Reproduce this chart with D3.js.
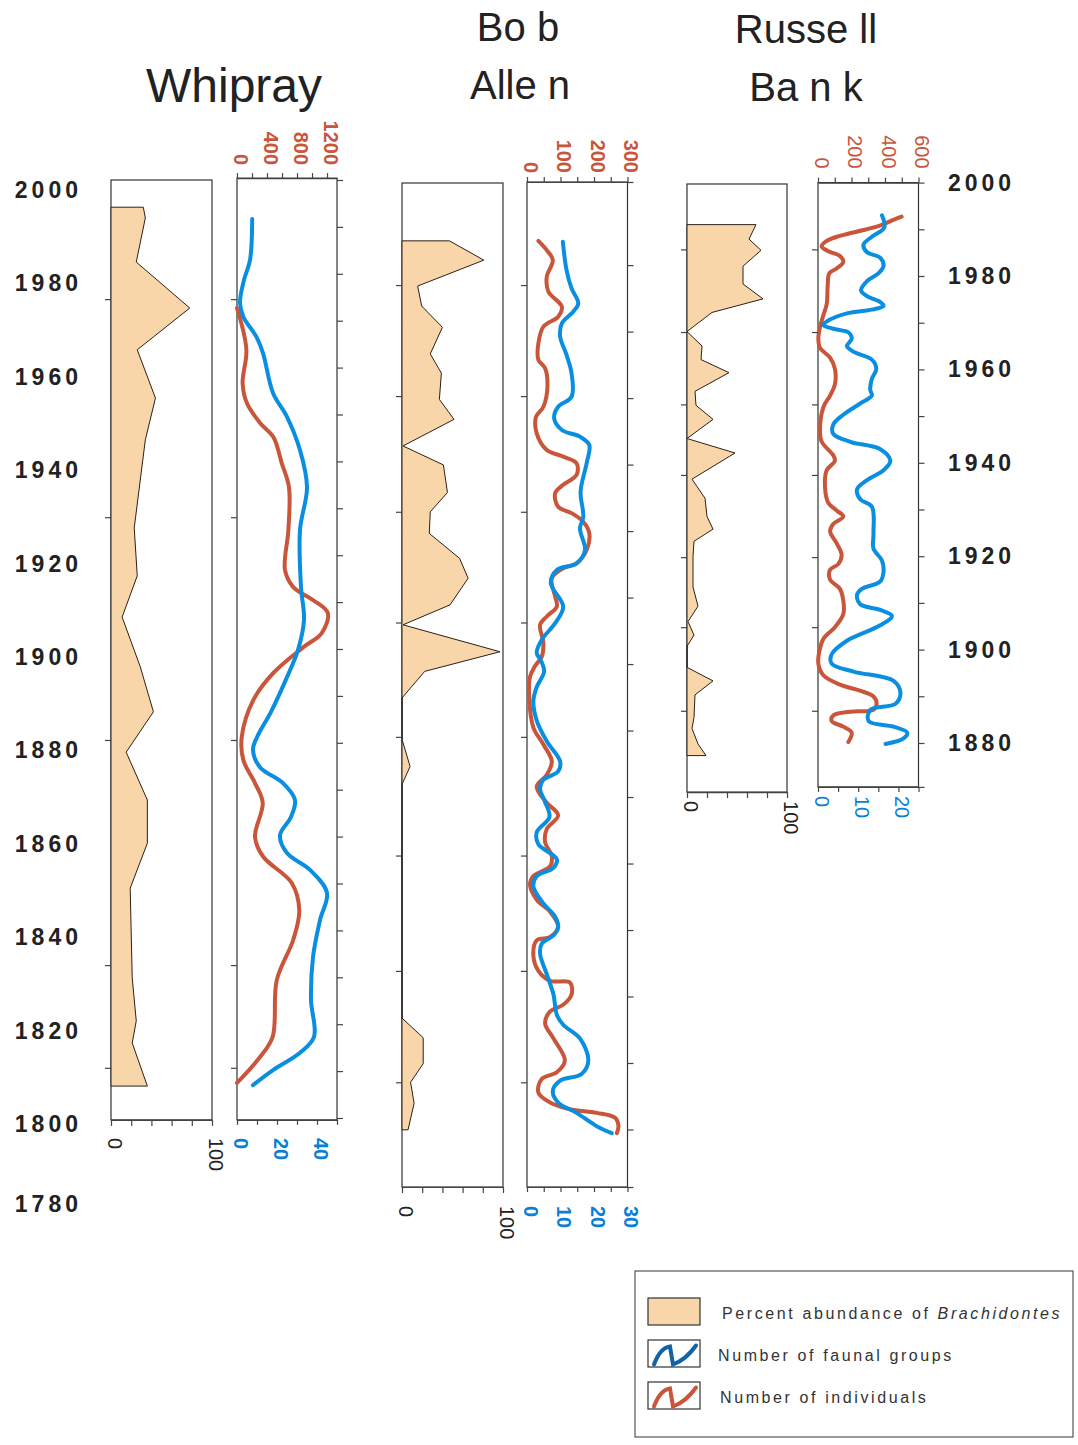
<!DOCTYPE html>
<html>
<head>
    <meta charset="utf-8" />
    <title>Whipray, Bob Allen, Russell Bank</title>
    <script src="https://cdn.jsdelivr.net/npm/d3@7"></script>
    <style>
        body { margin: 0; background: #fff; }
        svg { font-family: "Liberation Sans", Arial, Helvetica, sans-serif; }
        .box { fill: #fff; stroke: #333; stroke-width: 1.2; }
        .pct { fill: #f9d6aa; stroke: #2b2018; stroke-width: 1; stroke-linejoin: miter; }
        .indiv { fill: none; stroke: #c9553b; stroke-width: 4; stroke-linecap: round; stroke-linejoin: round; }
        .groups { fill: none; stroke: #0a8ee0; stroke-width: 4; stroke-linecap: round; stroke-linejoin: round; }
        .title { fill: #222; }
        .year { fill: #222; font-weight: bold; font-size: 23px; letter-spacing: 4px; }
        .legend text { fill: #333; font-size: 16px; letter-spacing: 2.6px; }
    </style>
</head>
<body>
<svg width="1078" height="1445" viewBox="0 0 1078 1445"></svg>
<script>
// ---------------- data ----------------
// every series: [vertical position, value]
// Whipray and Russell Bank are placed by year, Bob Allen by depth (cm)

var percentTicks = [0, 20, 40, 60, 80, 100];

// Whipray
var whiprayPct = [[1994.2, 32], [1991.9, 34], [1982.5, 25], [1972.7, 78], [1963.8, 26], [1953.5, 44],
    [1944.6, 34], [1925.8, 23], [1915.6, 26], [1906.8, 11], [1896.2, 29], [1886.6, 42], [1878.0, 15],
    [1867.8, 36], [1858.6, 36], [1849.0, 19], [1829.9, 21], [1820.7, 25], [1816.0, 21], [1806.8, 36]];
var whiprayGroups = [[1991.7, 7.6], [1982.9, 6.5], [1978.7, 3.5], [1973.8, 1.5], [1970.8, 3.2], [1966.5, 9.8],
    [1963.1, 13], [1954.6, 18], [1949.5, 25], [1942.4, 31.5], [1934.5, 35], [1925.4, 31.5], [1913.2, 32],
    [1906.2, 33.5], [1899.8, 30.5], [1894.0, 25], [1886.6, 17], [1881.2, 10], [1878.5, 8], [1874.8, 11.5],
    [1871.4, 23], [1867.8, 29], [1864.2, 27], [1860.3, 21.5], [1856.5, 25], [1852.9, 36.5], [1848.0, 45],
    [1842.2, 41.5], [1834.3, 38], [1825.2, 37], [1817.3, 38.5], [1813.9, 31.5], [1810.2, 18], [1807.0, 8]];
var whiprayIndiv = [[1972.7, 0], [1963.8, 125], [1956.7, 75], [1952.5, 130], [1948.2, 307], [1945.2, 485],
    [1939.7, 595], [1934.5, 693], [1925.4, 685], [1916.8, 640], [1913.2, 750], [1910.4, 1017], [1907.7, 1210],
    [1903.4, 1130], [1900.4, 885], [1894.9, 485], [1889.1, 217], [1881.2, 63], [1876.3, 85], [1871.4, 240],
    [1867.2, 343], [1859.9, 240], [1855.7, 350], [1850.1, 730], [1844.3, 830], [1838.0, 750], [1829.4, 530],
    [1817.3, 475], [1813.0, 307], [1807.5, 0]];
var whiprayMarks = [1974.6, 1928.1, 1880.6, 1832.6, 1810.7];
var whiprayYearLabels = [2000, 1980, 1960, 1940, 1920, 1900, 1880, 1860, 1840, 1820, 1800, 1780];

// Bob Allen (depth, cm)
var bobPct = [[1.77, 47], [2.35, 81], [3.13, 15.5], [3.73, 19.5], [4.37, 40], [5.17, 28], [5.75, 39],
    [6.54, 37], [7.14, 51.5], [7.94, 1], [8.51, 41], [9.34, 45], [9.92, 28], [10.57, 27], [11.32, 57],
    [11.92, 65.5], [12.72, 47.5], [13.32, 1], [14.13, 97], [14.72, 22.5], [15.52, 0], [16.76, 0], [17.58, 8],
    [18.12, 0], [25.15, 0], [25.74, 21], [26.52, 21], [27.08, 8.5], [27.71, 12], [28.51, 6]];
var bobGroups = [[1.80, 10.7], [2.65, 11.8], [3.20, 13.3], [3.65, 15.3], [3.90, 13.8], [4.25, 10.4],
    [4.65, 9.9], [5.20, 11.8], [5.75, 13.3], [6.46, 13.3], [6.76, 9.3], [7.11, 8.1], [7.46, 10.4], [7.66, 15.8],
    [7.91, 18.6], [8.46, 17.8], [9.31, 16.0], [10.07, 16.8], [10.42, 15.8], [11.07, 17.3], [11.47, 14.8],
    [11.67, 8.9], [12.07, 7.1], [12.77, 10.8], [13.27, 8.4], [13.77, 4.4], [14.17, 2.9], [14.38, 4.1],
    [14.73, 5.1], [15.19, 2.9], [15.60, 1.9], [16.20, 2.9], [16.82, 5.9], [17.43, 9.9], [17.73, 9.3],
    [17.98, 4.9], [18.24, 3.9], [18.65, 5.4], [19.10, 6.7], [19.56, 2.9], [19.92, 3.4], [20.37, 8.9],
    [20.63, 7.9], [20.88, 2.9], [21.19, 1.9], [21.70, 4.9], [22.10, 8.4], [22.41, 9.3], [22.66, 7.9],
    [22.91, 4.4], [23.22, 3.9], [23.83, 5.9], [24.44, 7.9], [25.05, 8.9], [25.35, 10.8], [25.76, 15.8],
    [26.42, 18.3], [26.83, 16.3], [27.03, 9.9], [27.34, 7.7], [27.69, 9.3], [28.00, 14.8], [28.40, 20.8],
    [28.61, 25.3]];
var bobIndiv = [[1.77, 34], [2.05, 59], [2.35, 77], [2.85, 59], [3.30, 64], [3.75, 104], [4.05, 93],
    [4.35, 49], [4.85, 34], [5.35, 34], [5.60, 54], [6.16, 61], [6.76, 49], [7.06, 27], [7.56, 29], [8.06, 59],
    [8.26, 108], [8.46, 148], [8.81, 148], [9.11, 108], [9.36, 84], [9.77, 93], [9.96, 133], [10.22, 168],
    [10.57, 186], [11.07, 178], [11.47, 148], [11.62, 108], [11.92, 74], [12.47, 84], [12.77, 89], [13.07, 59],
    [13.32, 39], [13.87, 49], [14.28, 44], [14.56, 24], [14.88, 9], [15.60, 7], [16.41, 19], [16.92, 49],
    [17.43, 74], [17.83, 59], [18.19, 29], [18.65, 57], [19.05, 93], [19.46, 59], [19.86, 54], [20.27, 74],
    [20.58, 69], [20.88, 19], [21.14, 9], [21.59, 29], [21.95, 69], [22.41, 93], [22.71, 69], [22.81, 29],
    [23.27, 19], [23.73, 34], [24.03, 69], [24.08, 128], [24.44, 133], [24.75, 108], [24.95, 69], [25.31, 54],
    [25.76, 79], [26.42, 113], [26.78, 89], [26.98, 44], [27.39, 34], [27.69, 69], [27.89, 128], [28.00, 208],
    [28.15, 263], [28.40, 273], [28.61, 268]];
var bobMarks = [3.10, 6.44, 9.92, 13.25, 16.69, 20.26, 23.73, 27.08];

// Russell Bank
var russellPct = [[1991.0, 69], [1987.9, 62], [1985.5, 74], [1982.1, 56], [1978.3, 56], [1975.1, 76],
    [1972.2, 25], [1968.1, 0], [1965.0, 15], [1962.1, 14], [1959.3, 42], [1955.3, 8], [1952.3, 9], [1949.3, 26],
    [1945.2, 0], [1942.1, 48], [1936.5, 5], [1932.4, 18], [1928.5, 20], [1925.8, 26], [1923.2, 7], [1919.9, 6],
    [1913.4, 6], [1909.3, 11], [1906.0, 1], [1903.1, 7], [1900.7, 0], [1896.2, 0], [1893.3, 26], [1890.3, 8],
    [1885.5, 7], [1883.1, 5], [1879.8, 11], [1877.3, 19]];
var russellGroups = [[1993.0, 15.9], [1990.4, 16.5], [1988.4, 13.4], [1986.7, 11.3], [1985.1, 12.2],
    [1983.9, 15.5], [1982.2, 16.3], [1980.6, 15.1], [1978.9, 12.2], [1976.9, 10.7], [1975.7, 12.2],
    [1974.4, 15.5], [1973.6, 16.3], [1972.8, 13.4], [1972.0, 7.2], [1970.3, 2.2], [1969.5, 1.3], [1968.7, 3.8],
    [1967.9, 7.6], [1966.6, 8.4], [1965.0, 7.2], [1963.8, 8.8], [1962.1, 13.4], [1960.1, 14.5], [1958.0, 13.4],
    [1955.6, 13.0], [1954.4, 13.4], [1952.7, 10.5], [1950.3, 6.3], [1948.2, 3.8], [1946.2, 3.8], [1944.5, 8.0],
    [1942.9, 15.5], [1940.4, 18.0], [1938.4, 16.3], [1936.3, 12.2], [1934.3, 9.7], [1932.2, 10.5],
    [1930.6, 13.4], [1924.8, 13.8], [1921.6, 13.8], [1919.1, 15.9], [1916.7, 16.3], [1914.6, 15.5],
    [1913.0, 10.9], [1911.7, 9.7], [1909.7, 10.5], [1908.5, 15.5], [1907.2, 18.4], [1905.2, 15.5],
    [1901.9, 7.2], [1899.0, 3.4], [1897.0, 3.4], [1895.3, 8.8], [1893.3, 18.8], [1890.8, 20.5], [1888.4, 19.3],
    [1887.1, 13.0], [1884.7, 12.6], [1883.5, 18.8], [1882.2, 22.2], [1881.0, 21.3], [1879.8, 16.8]];
var russellIndiv = [[1992.7, 499], [1992.0, 450], [1990.8, 370], [1990.0, 290], [1988.6, 131], [1987.5, 52],
    [1986.3, 22], [1985.3, 62], [1984.3, 131], [1983.0, 151], [1981.6, 111], [1980.6, 68], [1978.1, 58],
    [1974.0, 52], [1971.6, 32], [1969.1, 12], [1966.6, 2], [1964.6, 12], [1962.5, 72], [1960.1, 101],
    [1956.8, 101], [1954.4, 72], [1951.9, 32], [1947.0, 12], [1944.5, 22], [1941.6, 91], [1940.4, 101],
    [1938.4, 52], [1934.7, 42], [1931.4, 62], [1929.8, 111], [1928.5, 151], [1926.9, 91], [1925.3, 72],
    [1922.8, 111], [1920.3, 141], [1918.3, 121], [1917.1, 72], [1915.0, 72], [1913.0, 131], [1910.5, 151],
    [1907.6, 151], [1904.8, 101], [1902.3, 32], [1900.3, 12], [1897.0, 2], [1894.5, 32], [1892.5, 131],
    [1891.2, 251], [1890.0, 330], [1888.4, 350], [1887.1, 330], [1886.7, 191], [1885.9, 91], [1884.7, 82],
    [1883.5, 151], [1882.2, 201], [1880.2, 181]];
var russellMarks = [1985.7, 1968.0, 1952.5, 1937.4, 1919.8, 1904.8, 1886.9];
var russellYearLabels = [2000, 1980, 1960, 1940, 1920, 1900, 1880];

var legendLabels = ["Percent abundance of ", "Number of faunal groups", "Number of individuals"];

// ---------------- drawing ----------------
var svg = d3.select("svg");
var FONT = '"Liberation Sans", Arial, Helvetica, sans-serif';
var RED = "#c9553b", BLUE = "#0a7fd6";

var cores = [
    {
        titles: [["Whipray", 234, 102, 48]],
        y: d3.scaleLinear().domain([2000, 1800]).range([180, 1118]),
        pctBox: [2000, 1799.6], linesBox: [2000.4, 1799.6],
        pctX: [111, 212], linesX: [237, 337],
        redMax: 1333, redTicks: d3.range(0, 1201, 200),
        blueMax: 50, blueTicks: d3.range(0, 51, 10),
        rightTicks: d3.range(2000, 1799, -10),
        marks: whiprayMarks, pct: whiprayPct, groups: whiprayGroups, indiv: whiprayIndiv,
        bold: true, topGap: 13, bottomGap: 18
    },
    {
        titles: [["Bo b", 518, 41, 40], ["Alle n", 520, 99, 40]],
        y: d3.scaleLinear().domain([0, 30.23]).range([182, 1187]),
        pctBox: [0.03, 30.23], linesBox: [0, 30.23],
        pctX: [402, 503], linesX: [527, 627.5],
        redMax: 300, redTicks: d3.range(0, 301, 50),
        blueMax: 30, blueTicks: d3.range(0, 31, 5),
        rightTicks: [0].concat(d3.range(2.5, 29, 2), [30.23]),
        marks: bobMarks, pct: bobPct, groups: bobGroups, indiv: bobIndiv,
        bold: true, topGap: 9, bottomGap: 19
    },
    {
        titles: [["Russe ll", 806, 43, 40], ["Ba n k", 806, 101, 40]],
        y: d3.scaleLinear().domain([2000, 1870]).range([182.6, 789.7]),
        pctBox: [1999.7, 1869.5], linesBox: [2000, 1870.6],
        pctX: [687, 787], linesX: [818, 918.5],
        redMax: 600, redTicks: d3.range(0, 601, 100),
        blueMax: 25, blueTicks: d3.range(0, 26, 5),
        rightTicks: d3.range(2000, 1879, -10).concat([1870.6]),
        marks: russellMarks, pct: russellPct, groups: russellGroups, indiv: russellIndiv,
        bold: false, topGap: 14, bottomGap: 9
    }
];

function axisLook(g, c) {
    g.attr("font-family", FONT).attr("font-size", 20)
        .attr("font-weight", c.bold ? "bold" : "normal")
        .attr("color", "#444");
    g.selectAll(".tick line").attr("stroke-width", 1.2);
    g.select(".domain").attr("stroke-width", 1.2);
}

cores.forEach(function (c) {
    var g = svg.append("g");
    var y = c.y;
    var px = d3.scaleLinear().domain([0, 100]).range(c.pctX);
    var xRed = d3.scaleLinear().domain([0, c.redMax]).range(c.linesX);
    var xBlue = d3.scaleLinear().domain([0, c.blueMax]).range(c.linesX);

    // titles
    c.titles.forEach(function (t) {
        g.append("text").attr("class", "title")
            .attr("x", t[1]).attr("y", t[2]).attr("text-anchor", "middle")
            .attr("font-size", t[3]).text(t[0]);
    });

    // boxes
    g.append("rect").attr("class", "box")
        .attr("x", c.pctX[0]).attr("y", y(c.pctBox[0]))
        .attr("width", c.pctX[1] - c.pctX[0]).attr("height", y(c.pctBox[1]) - y(c.pctBox[0]));
    g.append("rect").attr("class", "box")
        .attr("x", c.linesX[0]).attr("y", y(c.linesBox[0]))
        .attr("width", c.linesX[1] - c.linesX[0]).attr("height", y(c.linesBox[1]) - y(c.linesBox[0]));

    // percent abundance
    var area = d3.area()
        .y(function (d) { return y(d[0]); })
        .x0(px(0))
        .x1(function (d) { return px(d[1]); });
    g.append("path").datum(c.pct).attr("class", "pct").attr("d", area);

    // individuals and faunal groups
    var curve = d3.curveCatmullRom.alpha(0.5);
    g.append("path").datum(c.indiv).attr("class", "indiv")
        .attr("d", d3.line().curve(curve)
            .x(function (d) { return xRed(d[1]); })
            .y(function (d) { return y(d[0]); }));
    g.append("path").datum(c.groups).attr("class", "groups")
        .attr("d", d3.line().curve(curve)
            .x(function (d) { return xBlue(d[1]); })
            .y(function (d) { return y(d[0]); }));

    var pctBottom = y(c.pctBox[1]);
    var linesTop = y(c.linesBox[0]), linesBottom = y(c.linesBox[1]);

    // percent axis (bottom)
    var pa = g.append("g").attr("transform", "translate(0," + pctBottom + ")")
        .call(d3.axisBottom(px).tickValues(percentTicks).tickSize(6).tickSizeOuter(0)
            .tickFormat(function (d) { return (d === 0 || d === 100) ? d : ""; }));
    axisLook(pa, c);
    pa.selectAll("text").attr("font-weight", "normal").attr("fill", "#222")
        .attr("transform", "rotate(90)").attr("x", c.bottomGap).attr("y", 0)
        .attr("dy", "0.2em").attr("text-anchor", "start");

    // individuals axis (top)
    var ta = g.append("g").attr("transform", "translate(0," + linesTop + ")")
        .call(d3.axisTop(xRed).tickValues(c.redTicks).tickSize(5).tickSizeOuter(0)
            .tickFormat(function (d, i) { return i % 2 ? "" : d; }));
    axisLook(ta, c);
    ta.selectAll("text").attr("fill", RED)
        .attr("transform", "rotate(90)").attr("x", -c.topGap).attr("y", 0)
        .attr("dy", "0.2em").attr("text-anchor", "end");

    // faunal groups axis (bottom)
    var ba = g.append("g").attr("transform", "translate(0," + linesBottom + ")")
        .call(d3.axisBottom(xBlue).tickValues(c.blueTicks).tickSize(5).tickSizeOuter(0)
            .tickFormat(function (d, i) { return i % 2 ? "" : d; }));
    axisLook(ba, c);
    ba.selectAll("text").attr("fill", BLUE)
        .attr("transform", "rotate(90)").attr("x", c.bottomGap).attr("y", 0)
        .attr("dy", "0.2em").attr("text-anchor", "start");

    // right hand ticks
    var ra = g.append("g").attr("transform", "translate(" + c.linesX[1] + ",0)")
        .call(d3.axisRight(y).tickValues(c.rightTicks).tickSize(6).tickSizeOuter(0).tickFormat(""));
    axisLook(ra, c);
    ra.select(".domain").remove();

    // dated horizons: small ticks left of both panels
    [c.pctX[0], c.linesX[0]].forEach(function (x0) {
        var la = g.append("g").attr("transform", "translate(" + x0 + ",0)")
            .call(d3.axisLeft(y).tickValues(c.marks).tickSize(6).tickSizeOuter(0).tickFormat(""));
        axisLook(la, c);
        la.select(".domain").remove();
    });
});

// year labels: Whipray on the left, Russell Bank on the right
var whiprayLabelY = d3.scaleLinear().domain([1780, 1800, 2000]).range([1204, 1124, 190]);
svg.append("g").selectAll("text").data(whiprayYearLabels).enter().append("text")
    .attr("class", "year")
    .attr("x", 82).attr("y", function (d) { return whiprayLabelY(d); })
    .attr("dominant-baseline", "central").attr("text-anchor", "end")
    .text(function (d) { return d; });

var russellY = cores[2].y;
svg.append("g").selectAll("text").data(russellYearLabels).enter().append("text")
    .attr("class", "year")
    .attr("x", 948).attr("y", function (d) { return russellY(d); })
    .attr("dominant-baseline", "central").attr("text-anchor", "start")
    .text(function (d) { return d; });

// legend
var lg = svg.append("g").attr("class", "legend");
lg.append("rect").attr("x", 635).attr("y", 1271).attr("width", 438).attr("height", 166)
    .attr("fill", "#fff").attr("stroke", "#555").attr("stroke-width", 1.2);

var rowY = [1298, 1340, 1382];
var textX = [722, 718, 720];
var wave = "M3,24 C7,13 12,7 19,6 L22,24 C30,21 38,15 45,5";

rowY.forEach(function (ry, i) {
    lg.append("rect").attr("x", 648).attr("y", ry).attr("width", 52).attr("height", 27)
        .attr("fill", i === 0 ? "#f9d6aa" : "#fff").attr("stroke", "#333").attr("stroke-width", 1.2);
    if (i > 0) {
        lg.append("path").attr("transform", "translate(651," + (ry + 0.5) + ")")
            .attr("d", wave).attr("fill", "none")
            .attr("stroke", i === 1 ? "#1262a6" : RED).attr("stroke-width", 4)
            .attr("stroke-linecap", "round");
    }
    var t = lg.append("text").attr("x", textX[i]).attr("y", ry + 21).text(legendLabels[i]);
    if (i === 0) t.append("tspan").attr("font-style", "italic").text("Brachidontes");
});
</script>
</body>
</html>
